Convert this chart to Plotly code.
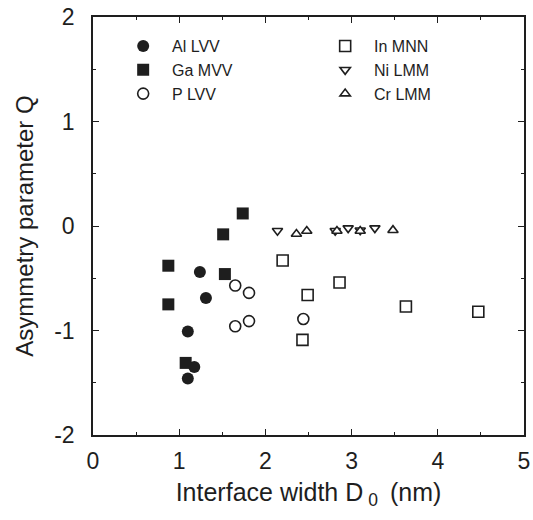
import plotly.graph_objects as go

# ---- data ----
al_x = [1.24, 1.31, 1.10, 1.175, 1.10]
al_y = [-0.44, -0.69, -1.01, -1.35, -1.46]

ga_x = [1.737, 1.51, 0.874, 1.53, 0.874, 1.075]
ga_y = [0.12, -0.08, -0.38, -0.46, -0.75, -1.31]

p_x = [1.65, 1.81, 1.65, 1.81, 2.44]
p_y = [-0.57, -0.64, -0.96, -0.91, -0.89]

in_x = [2.20, 2.49, 2.86, 2.43, 3.63, 4.47]
in_y = [-0.33, -0.66, -0.54, -1.09, -0.77, -0.82]

ni_x = [2.14, 2.81, 2.96, 3.10, 3.27]
ni_y = [-0.045, -0.045, -0.02, -0.04, -0.02]

cr_x = [2.36, 2.48, 2.83, 3.10, 3.48]
cr_y = [-0.077, -0.048, -0.048, -0.048, -0.04]

x_ticks = [0, 1, 2, 3, 4, 5]
x_ticktext = ["0", "1", "2", "3", "4", "5"]
y_ticks = [-2, -1, 0, 1, 2]
y_ticktext = ["-2", "-1", "0", "1", "2"]

INK = "#1e1e1e"
FONT = "Liberation Sans, Arial, sans-serif"
NB = "\u00a0\u00a0"

fig = go.Figure()

def add(x, y, name, symbol, size, filled):
    fig.add_trace(go.Scatter(
        x=x, y=y, mode="markers", name=NB + name,
        marker=dict(symbol=symbol, size=size,
                    color=INK if filled else "white",
                    line=dict(color=INK, width=0 if filled else 1.6)),
    ))

# order chosen so the horizontal legend wraps into two columns
add(al_x, al_y, "Al LVV", "circle", 12, True)
add(in_x, in_y, "In MNN", "square", 11, False)
add(ga_x, ga_y, "Ga MVV", "square", 12, True)
add(ni_x, ni_y, "Ni LMM", "triangle-down", 9, False)
add(p_x, p_y, "P LVV", "circle", 11, False)
add(cr_x, cr_y, "Cr LMM", "triangle-up", 9, False)

axis_common = dict(
    showgrid=False, zeroline=False, showline=True, linecolor=INK, linewidth=1.6,
    mirror="ticks", ticks="inside", ticklen=6, tickwidth=1.4, tickcolor=INK,
    tickfont=dict(family=FONT, size=23, color=INK),
    tickmode="array", ticklabeloverflow="allow",
)

fig.update_xaxes(
    **axis_common, range=[0, 5], tickvals=x_ticks, ticktext=x_ticktext,
    minor=dict(ticks="inside", ticklen=3, tickwidth=1.2, tickcolor=INK, dtick=0.5, tick0=0),
    title=dict(text="Interface width D\u2009<sub>0</sub>\u2009 (nm)",
               font=dict(family=FONT, size=25, color=INK), standoff=10),
    ticklabelstandoff=5,
)
fig.update_yaxes(
    **axis_common, range=[-2, 2], tickvals=y_ticks, ticktext=y_ticktext,
    minor=dict(ticks="inside", ticklen=3, tickwidth=1.2, tickcolor=INK, dtick=0.5, tick0=0),
    title=dict(text="Asymmetry parameter Q", font=dict(family=FONT, size=24, color=INK), standoff=14),
    ticklabelstandoff=12,
)

fig.update_layout(
    width=533, height=520,
    margin=dict(l=93, r=9, t=17, b=85, autoexpand=False),
    paper_bgcolor="white", plot_bgcolor="white",
    showlegend=True,
    legend=dict(
        orientation="h", x=0.07, y=0.971, xanchor="left", yanchor="top",
        bgcolor="rgba(0,0,0,0)", borderwidth=0,
        font=dict(family=FONT, size=16, color=INK),
        entrywidth=157, entrywidthmode="pixels", itemwidth=30,
    ),
)

# remove the page's default body margin so the figure sits at the window origin
fig.write_html("out.html", config={"displayModeBar": False},
               post_script="document.body.style.margin='0';")
